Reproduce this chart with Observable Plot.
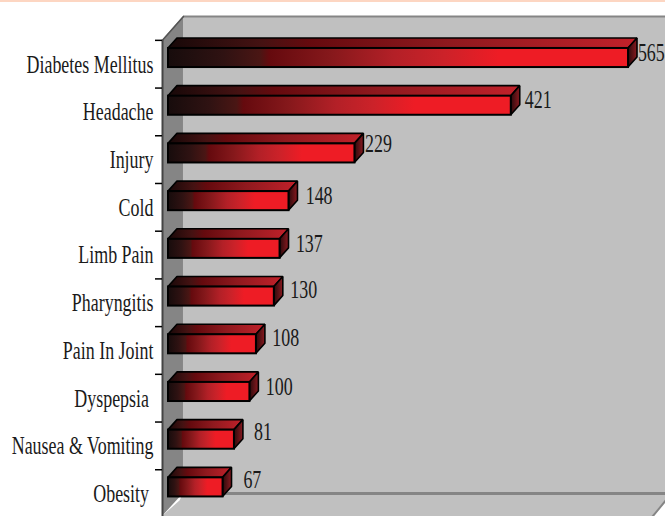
<!DOCTYPE html>
<html>
<head>
<meta charset="utf-8">
<script src="https://cdn.jsdelivr.net/npm/d3@7"></script>
<script src="https://cdn.jsdelivr.net/npm/@observablehq/plot@0.6"></script>
<style>
  html, body { margin: 0; padding: 0; background: #fff; }
  #wrap { position: relative; width: 665px; height: 516px; overflow: hidden; }
  #strip { position: absolute; left: 0; top: 0; width: 665px; height: 2px; background: #fdd6c2; }
  svg { display: block; }
</style>
</head>
<body>
<div id="wrap"><div id="strip"></div></div>
<script>
const categories = ["Diabetes Mellitus", "Headache", "Injury", "Cold", "Limb Pain", "Pharyngitis", "Pain In Joint", "Dyspepsia\u00a0", "Nausea & Vomiting", "Obesity\u00a0"];
const values = [565, 421, 229, 148, 137, 130, 108, 100, 81, 67];
// offset of each value label from its bar end: along the value axis, and in rows
const labelGap = [28, 33, 29, 37, 36, 36, 36, 36, 35, 36];
const labelRow = [0.25, 0.25, 0.17, 0.25, 0.27, 0.23, 0.23, 0.25, 0.21, 0.21];

const frontStops = [[0, "#170c0c"], [0.12, "#2f1212"], [0.2, "#4a1614"], [0.22, "#650a0e"], [0.35, "#85181b"], [0.49, "#b32027"], [0.6, "#cc2229"], [0.72, "#ee1c25"], [1, "#ee1c25"]];
const topStops = [[0, "#170808"], [0.2, "#451212"], [0.3, "#650a0e"], [0.6, "#8f191e"], [1, "#c1212a"]];
const sideStops = [[0, "#2c0a0c"], [1, "#8a1a20"]];

const depthX = 11, barTop = 0.17, barBottom = 0.57, depthY = 0.21;
const xMin = -7.37, xMax = 610.4, yMin = -0.5, yMax = 9.98, wallX = 18.4, floorY = 9.5, floorEdge = 9.65, floorCut = 594.5;
const wallGrey = "#c0c0c0", sideGrey = "#858585", ink = "#000";

const rows = categories.map((name, i) => ({name, i, value: values[i], gap: labelGap[i], row: labelRow[i]}));
const topFaces = rows.flatMap(d => [
  {name: d.name, y: d.i + barTop - depthY, x1: depthX, x2: d.value + depthX},
  {name: d.name, y: d.i + barTop, x1: 0, x2: d.value}
]);
const sideFaces = rows.flatMap(d => [
  {name: d.name, x: d.value, y1: d.i + barTop, y2: d.i + barBottom},
  {name: d.name, x: d.value + depthX, y1: d.i + barTop - depthY, y2: d.i + barBottom - depthY}
]);

function gradient(id, stops) {
  const g = d3.create("svg:linearGradient").attr("id", id).attr("x1", 0).attr("x2", 1).attr("y1", 0).attr("y2", 0);
  stops.forEach(([o, c]) => g.append("stop").attr("offset", o).attr("stop-color", c));
  return g.node();
}
const defs = () => {
  const d = d3.create("svg:defs");
  d.append(() => gradient("front", frontStops));
  d.append(() => gradient("top", topStops));
  d.append(() => gradient("side", sideStops));
  return d.node();
};

const chart = Plot.plot({
  width: 665, height: 516,
  marginLeft: 162, marginRight: 0, marginTop: 0, marginBottom: 0,
  style: {background: "transparent"},
  x: {domain: [xMin, xMax], range: [162, 665], axis: null},
  y: {domain: [yMin, yMax], range: [16, 516], axis: null},
  marks: [
    defs,
    // back wall
    Plot.rect([{}], {x1: wallX, x2: xMax, y1: yMin, y2: floorEdge, fill: wallGrey}),
    // floor
    Plot.areaX([
      {y: floorY, x1: wallX, x2: xMax},
      {y: floorEdge, x1: wallX - 4, x2: xMax},
      {y: yMax, x1: xMin, x2: floorCut}
    ], {y: "y", x1: "x1", x2: "x2", fill: wallGrey}),
    // side wall
    Plot.areaY([
      {x: xMin, y1: 0, y2: yMax},
      {x: wallX, y1: yMin, y2: floorY}
    ], {x: "x", y1: "y1", y2: "y2", fill: sideGrey}),
    // wall edges
    Plot.ruleY([yMin], {x1: wallX, x2: xMax, stroke: sideGrey, strokeWidth: 2}),
    Plot.ruleY([floorY], {x1: wallX, x2: xMax, stroke: sideGrey, strokeWidth: 3}),
    Plot.line([{x: xMin, y: 0}, {x: wallX, y: yMin}], {x: "x", y: "y", stroke: "#555", strokeWidth: 1.5}),
    Plot.line([{x: floorCut, y: yMax}, {x: xMax, y: floorEdge}], {x: "x", y: "y", stroke: sideGrey, strokeWidth: 2}),
    Plot.ruleX([xMin], {y1: 0, y2: yMax, stroke: "#444", strokeWidth: 2}),
    // axes
    Plot.axisY({ticks: d3.range(0, 10), tickSize: 7, fill: "none", stroke: ink, strokeWidth: 1.5, anchor: "left", label: null}),
    Plot.axisY({
      ticks: d3.range(0, 10).map(i => i + 0.5), tickSize: 0, tickPadding: 9, anchor: "left", label: null,
      tickFormat: d => categories[Math.floor(d)], fontSize: 26, fontFamily: "Liberation Serif", fill: "#1a1a1a",
      ariaLabel: "category"
    }),
    // bars
    Plot.areaX(topFaces, {y: "y", x1: "x1", x2: "x2", z: "name", fill: "url(#top)", stroke: ink, strokeWidth: 1.6, strokeLinejoin: "miter"}),
    Plot.areaY(sideFaces, {x: "x", y1: "y1", y2: "y2", z: "name", fill: "url(#side)", stroke: ink, strokeWidth: 1.6, strokeLinejoin: "miter"}),
    Plot.rect(rows, {x1: 0, x2: "value", y1: d => d.i + barTop, y2: d => d.i + barBottom, fill: "url(#front)", stroke: ink, strokeWidth: 2}),
    // values
    Plot.text(rows, {x: d => d.value + d.gap, y: d => d.i + d.row, text: d => String(d.value), textAnchor: "middle", fontSize: 26, fontFamily: "Liberation Serif", fill: "#1a1a1a", ariaLabel: "value"})
  ]
});
d3.select(chart).selectAll("text").filter(function () { return (this.textContent || "").trim() !== ""; }).each(function () {
  const t = this.getAttribute("transform") || "";
  this.setAttribute("transform", t + " scale(0.69,1)");
});
document.getElementById("wrap").prepend(chart);
</script>
</body>
</html>
